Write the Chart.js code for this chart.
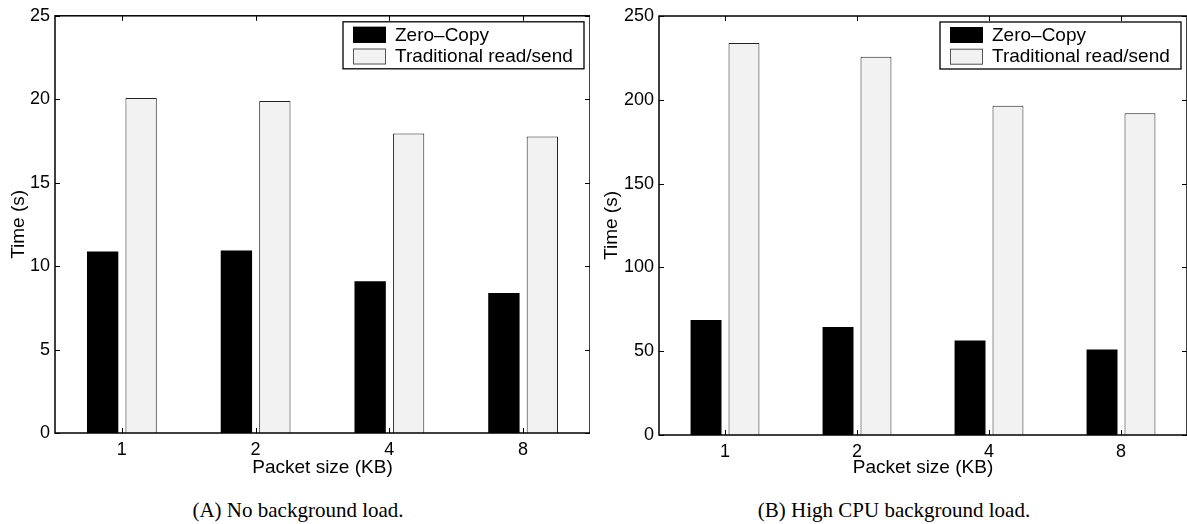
<!DOCTYPE html>
<html>
<head>
  <meta charset="UTF-8">
  <title>Zero-Copy vs Traditional read/send</title>
  <script src="https://cdn.jsdelivr.net/npm/chart.js"></script>
  <style>
    body {
      margin: 0;
      background: #fff;
      width: 1187px;
      height: 524px;
      position: relative;
      overflow: hidden;
    }

    canvas {
      position: absolute;
      top: 0;
    }

    #chartA { left: 0; }
    #chartB { left: 590px; }

    .caption {
      position: absolute;
      top: 497px;
      width: 400px;
      text-align: center;
      font-family: "Liberation Serif", "Times New Roman", serif;
      font-size: 21px;
      line-height: 26px;
      color: #000;
    }
  </style>
</head>
<body>
  <canvas id="chartA" width="590" height="480"></canvas>
  <canvas id="chartB" width="597" height="480"></canvas>
  <div class="caption" style="left: 98px;">(A) No background load.</div>
  <div class="caption" style="left: 694px;">(B) High CPU background load.</div>

  <script>
    // data
    const packetSizes = ['1', '2', '4', '8'];
    const seriesNames = ['Zero\u2013Copy', 'Traditional read/send'];

    const zeroCopyA = [10.88, 10.93, 9.09, 8.39];
    const traditionalA = [20.07, 19.89, 17.94, 17.76];

    const zeroCopyB = [68.6, 64.4, 56.4, 51.0];
    const traditionalB = [233.9, 225.7, 196.4, 192.0];

    const yMaxA = 25, yStepA = 5;
    const yMaxB = 250, yStepB = 50;

    Chart.defaults.font.family = '"Liberation Sans", Arial, Helvetica, sans-serif';
    Chart.defaults.color = '#000';

    const black = '#000000';
    const light = '#f2f2f2';

    // MATLAB style box, inward ticks and boxed legend
    const matlabBox = {
      id: 'matlabBox',
      afterDatasetsDraw(chart) {
        const { ctx, chartArea: a, scales: { x, y } } = chart;
        ctx.save();

        ctx.strokeStyle = '#000';
        ctx.lineWidth = 1;
        ctx.beginPath();
        x.ticks.forEach((t, i) => {
          const px = Math.round(x.getPixelForTick(i)) + 0.5;
          ctx.moveTo(px, a.bottom); ctx.lineTo(px, a.bottom - 5);
          ctx.moveTo(px, a.top); ctx.lineTo(px, a.top + 5);
        });
        y.ticks.forEach((t, i) => {
          const py = Math.round(y.getPixelForTick(i)) + 0.5;
          ctx.moveTo(a.left, py); ctx.lineTo(a.left + 5, py);
          ctx.moveTo(a.right, py); ctx.lineTo(a.right - 5, py);
        });
        ctx.stroke();

        ctx.lineWidth = 1.5;
        ctx.strokeRect(a.left, a.top, a.right - a.left, a.bottom - a.top);

        // legend
        const w = 241, h = 47;
        const bx = a.right - 6 - w, by = a.top + 6;
        ctx.fillStyle = '#fff';
        ctx.fillRect(bx, by, w, h);
        ctx.lineWidth = 1.3;
        ctx.strokeRect(bx, by, w, h);

        ctx.font = '19px "Liberation Sans", Arial, sans-serif';
        ctx.textBaseline = 'middle';
        ctx.textAlign = 'left';
        chart.data.datasets.forEach((ds, i) => {
          const sy = by + 5 + i * 21.7;
          ctx.fillStyle = ds.backgroundColor;
          ctx.fillRect(bx + 10, sy, 33, 16);
          ctx.lineWidth = 1;
          ctx.strokeStyle = i === 0 ? '#000' : '#555';
          ctx.strokeRect(bx + 10.5, sy + 0.5, 32, 15);
          ctx.fillStyle = '#000';
          ctx.fillText(ds.label, bx + 52, sy + 8.5);
        });

        ctx.restore();
      }
    };

    function makeChart(id, zero, trad, yMax, yStep, yWidth, top, titleX) {
      const ctx = document.getElementById(id).getContext('2d');
      return new Chart(ctx, {
        type: 'bar',
        data: {
          labels: packetSizes,
          datasets: [
            {
              label: seriesNames[0],
              data: zero,
              backgroundColor: black,
              borderColor: black,
              borderWidth: 0,
              categoryPercentage: 0.575,
              barPercentage: 0.815
            },
            {
              label: seriesNames[1],
              data: trad,
              backgroundColor: light,
              borderColor: '#222',
              borderWidth: 1,
              categoryPercentage: 0.575,
              barPercentage: 0.815
            }
          ]
        },
        options: {
          responsive: false,
          animation: false,
          devicePixelRatio: 1,
          layout: {
            padding: { top: top, left: 0, right: 0, bottom: 0 }
          },
          plugins: {
            legend: { display: false },
            tooltip: { enabled: false }
          },
          scales: {
            x: {
              offset: true,
              grid: { display: false, drawTicks: false },
              border: { display: false },
              ticks: { font: { size: 18 }, color: '#000', padding: 6 },
              title: {
                display: true,
                text: 'Packet size (KB)',
                font: { size: 19 },
                color: '#000',
                padding: { top: 0, bottom: 1 }
              },
              afterFit(scale) { scale.height = 480 - 433 - (top - 14); }
            },
            y: {
              min: 0,
              max: yMax,
              grid: { display: false, drawTicks: false },
              border: { display: false },
              ticks: { stepSize: yStep, font: { size: 18 }, color: '#000', padding: 5 },
              title: {
                display: true,
                text: 'Time (s)',
                font: { size: 19 },
                color: '#000',
                padding: { top: titleX, bottom: 0 }
              },
              afterFit(scale) { scale.width = yWidth; }
            }
          }
        },
        plugins: [matlabBox]
      });
    }

    makeChart('chartA', zeroCopyA, traditionalA, yMaxA, yStepA, 55, 14, 7);
    makeChart('chartB', zeroCopyB, traditionalB, yMaxB, yStepB, 69, 16, 10);
  </script>
</body>
</html>
